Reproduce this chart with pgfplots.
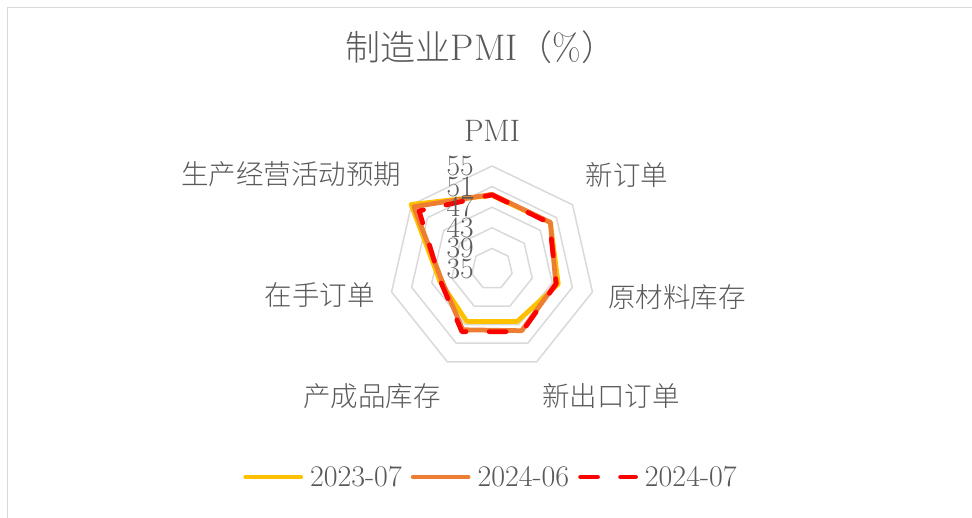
\documentclass[border=0pt]{standalone}
\usepackage{pgfplots}
\pgfplotsset{compat=1.18}
\usepackage{pgfplotstable}
\usepackage{fontspec}
\newfontfamily\cjk{Noto Sans CJK SC Light}
\definecolor{txt}{HTML}{595959}
\definecolor{gridc}{HTML}{D9D9D9}
\definecolor{cA}{HTML}{FFC000}
\definecolor{cB}{HTML}{ED7D31}
\definecolor{cC}{HTML}{FF0000}

% angle (deg) of each category, clockwise from top; value in %
\pgfplotstableread{
a v
90 49.3
38.5714 49.5
-12.8571 48.2
-64.2857 46.3
-115.7143 46.3
-167.1429 45.4
141.4286 55.1
90 49.3
}\dA
\pgfplotstableread{
a v
90 49.5
38.5714 49.5
-12.8571 47.7
-64.2857 48.3
-115.7143 48.1
-167.1429 45.0
141.4286 54.4
90 49.5
}\dB
\pgfplotstableread{
a v
90 49.4
38.5714 49.3
-12.8571 47.8
-64.2857 48.5
-115.7143 48.5
-167.1429 45.3
141.4286 53.1
90 49.4
}\dC
\pgfplotstableread{
a b
90 1
38.5714 1
-12.8571 1
-64.2857 1
-115.7143 1
-167.1429 1
141.4286 1
90 1
}\angs

\newcommand{\lab}{\fontsize{27.5}{29}\selectfont}
\begin{document}
\begin{tikzpicture}
\useasboundingbox (0pt,0pt) rectangle (972pt,517pt);
\draw[gridc, line width=1.5pt] (7.5pt,-3pt) -- (7.5pt,509.5pt) -- (980pt,509.5pt);
\begin{axis}[
  at={(492pt,248pt)}, anchor=origin,
  x=5.15pt, y=5.15pt,
  xmin=-25, xmax=25, ymin=-25, ymax=25,
  enlargelimits=false, hide axis, clip=false,
  legend columns=3,
  legend image code/.code={\draw[#1] (0pt,0pt) -- (55pt,0pt);},
  legend style={draw=none, fill=none, at={(0.4922,-0.3078)}, anchor=center,
    font=\fontsize{30}{30}\selectfont, text=txt,
    nodes={inner sep=0pt},
    /tikz/every odd column/.append style={column sep=7pt},
    /tikz/every even column/.append style={column sep=9pt}},
  every axis plot/.append style={line join=round, line cap=round},
]
\pgfplotsinvokeforeach{39,43,47,51,55}{
  \addplot[gridc, line width=1.5pt, forget plot]
    table[x expr={(#1-35)*cos(\thisrow{a})}, y expr={(#1-35)*sin(\thisrow{a})}]{\angs};
}
\addplot[cA, line width=4.75pt]
  table[x expr={(\thisrow{v}-35)*cos(\thisrow{a})}, y expr={(\thisrow{v}-35)*sin(\thisrow{a})}]{\dA};
\addlegendentry{2023-07}
\addplot[cB, line width=4.75pt]
  table[x expr={(\thisrow{v}-35)*cos(\thisrow{a})}, y expr={(\thisrow{v}-35)*sin(\thisrow{a})}]{\dB};
\addlegendentry{2024-06}
\addplot[cC, line width=4.75pt, dash pattern=on 17pt off 23pt]
  table[x expr={(\thisrow{v}-35)*cos(\thisrow{a})}, y expr={(\thisrow{v}-35)*sin(\thisrow{a})}]{\dC};
\addlegendentry{2024-07}
\pgfplotsinvokeforeach{35,39,43,47,51,55}{
  \node[anchor=east, inner sep=0pt, text=txt, font=\fontsize{29.5}{29.5}\selectfont]
    at (axis cs:-3.5,{#1-35}) {#1};
}
\end{axis}
\begin{scope}[text=txt]
\node[font=\fontsize{35}{36}\selectfont] at (481pt,470pt) {{\cjk 制造业}{\fontsize{37}{37}\selectfont PMI}{\cjk （}{\fontsize{37}{37}\selectfont\%}{\cjk ）}};
\node[font=\fontsize{31}{31}\selectfont] at (492pt,386pt) {PMI};
\node[font=\lab\cjk] at (627pt,342pt) {新订单};
\node[font=\lab\cjk] at (677pt,220pt) {原材料库存};
\node[font=\lab\cjk] at (611pt,120.5pt) {新出口订单};
\node[font=\lab\cjk] at (372pt,120.5pt) {产成品库存};
\node[font=\lab\cjk] at (319.5pt,222pt) {在手订单};
\node[font=\lab\cjk] at (291pt,343pt) {生产经营活动预期};
\end{scope}
\end{tikzpicture}
\end{document}
